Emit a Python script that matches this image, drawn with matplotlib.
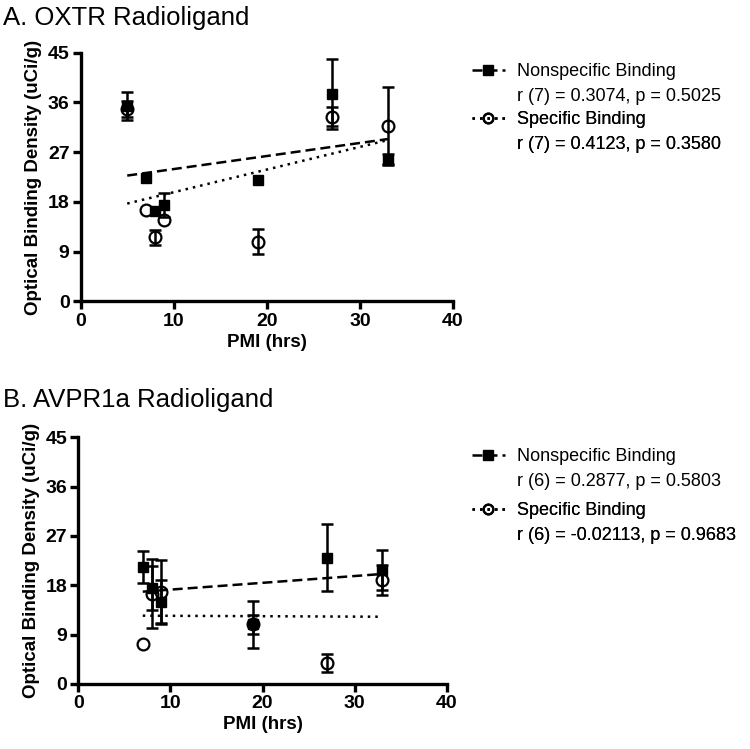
import numpy as np
import matplotlib
matplotlib.use("Agg")
import matplotlib.pyplot as plt
from matplotlib.lines import Line2D

plt.rcParams["font.family"] = ["Liberation Sans", "DejaVu Sans"]

# Panel A: OXTR radioligand
oxtr_pmi = np.array([5, 7, 8, 9, 19, 27, 33])
oxtr_nonspec = np.array([35.3, 22.3, 16.4, 17.4, 22.0, 37.5, 25.6])
oxtr_nonspec_err = np.array([2.5, 0, 0, 2.2, 0, 6.3, 1.0])
oxtr_spec = np.array([34.8, 16.6, 11.6, 14.8, 10.8, 33.4, 31.8])
oxtr_spec_err = np.array([1.5, 0, 1.4, 0, 2.3, 1.7, 7.0])
oxtr_stats = ["r (7) = 0.3074, p = 0.5025", "r (7) = 0.4123, p = 0.3580"]

# Panel B: AVPR1a radioligand
avpr_pmi = np.array([7, 8, 9, 19, 27, 33])
avpr_nonspec = np.array([21.4, 17.5, 15.0, 10.9, 23.0, 20.8])
avpr_nonspec_err = np.array([2.9, 4.0, 3.9, 4.3, 6.1, 3.7])
avpr_spec = np.array([7.3, 16.5, 16.8, 10.9, 3.8, 19.0])
avpr_spec_err = np.array([0, 6.3, 5.9, 1.7, 1.7, 2.7])
avpr_stats = ["r (6) = 0.2877, p = 0.5803", "r (6) = -0.02113, p = 0.9683"]

series_names = ["Nonspecific Binding", "Specific Binding"]
yticks = [0, 9, 18, 27, 36, 45]
xticks = [0, 10, 20, 30, 40]

LW = 1.8
DASH = (4, 2)
DOT = (1, 2)

fig = plt.figure(figsize=(7.5, 7.49), dpi=100)


def draw_panel(rect, x, ns, ns_err, sp, sp_err, title, title_y, stats,
               leg_y, leg_gap):
    ax = fig.add_axes(rect)

    # regression lines
    for y, dash in [(ns, DASH), (sp, DOT)]:
        k, b = np.polyfit(x, y, 1)
        xx = np.array([x.min(), x.max()])
        ax.plot(xx, k * xx + b, color="black", lw=LW, dashes=dash, zorder=2)

    # error bars
    for y, e in [(ns, ns_err), (sp, sp_err)]:
        m = e > 0
        ax.errorbar(x[m], y[m], yerr=e[m], fmt="none", ecolor="black",
                    elinewidth=LW, capsize=4.5, capthick=LW, zorder=3)

    ax.plot(x, sp, linestyle="none", marker="o", ms=8.5, mfc="none",
            mec="black", mew=1.6, zorder=4)
    ax.plot(x, ns, linestyle="none", marker="s", ms=7, color="black", zorder=5)

    ax.set_xlim(0, 40)
    ax.set_ylim(0, 45)
    ax.set_xticks(xticks)
    ax.set_yticks(yticks)
    for s in ["top", "right"]:
        ax.spines[s].set_visible(False)
    for s in ["left", "bottom"]:
        ax.spines[s].set_linewidth(2.4)
    ax.tick_params(width=2.4, length=6, labelsize=14, pad=2)
    for lab in ax.get_xticklabels() + ax.get_yticklabels():
        lab.set_fontweight("bold")
    ax.set_xlabel("PMI (hrs)", fontsize=13.5, fontweight="bold", labelpad=3)
    ax.set_ylabel("Optical Binding Density (uCi/g)", fontsize=13.5,
                  fontweight="bold", labelpad=4)

    fig.text(0.004, title_y, title, fontsize=18.5, va="center", ha="left")

    # legends: one per series, stats line underneath
    handles = [
        Line2D([], [], color="black", lw=LW, dashes=DASH, marker="s", ms=7),
        Line2D([], [], color="black", lw=LW, dashes=DOT, marker="o", ms=7,
               mfc="none", mew=1.6),
    ]
    blank = Line2D([], [], linestyle="none")
    for i in range(2):
        leg = ax.legend([handles[i], blank], [series_names[i], stats[i]],
                        loc="upper left",
                        bbox_to_anchor=(0.629, leg_y - i * leg_gap),
                        bbox_transform=fig.transFigure, frameon=False,
                        fontsize=13, handlelength=1.85, handletextpad=0.65,
                        labelspacing=0.42, borderpad=0, borderaxespad=0)
        ax.add_artist(leg)
    return ax


draw_panel([0.1076, 0.5975, 0.4964, 0.3324], oxtr_pmi, oxtr_nonspec,
           oxtr_nonspec_err, oxtr_spec, oxtr_spec_err,
           "A. OXTR Radioligand", 1 - 18 / 749, oxtr_stats,
           1 - 63 / 749, 48 / 749)
draw_panel([0.1044, 0.0868, 0.4912, 0.3294], avpr_pmi, avpr_nonspec,
           avpr_nonspec_err, avpr_spec, avpr_spec_err,
           "B. AVPR1a Radioligand", 1 - 400 / 749, avpr_stats,
           1 - 448 / 749, 54 / 749)

fig.savefig("out.png", dpi=100)
